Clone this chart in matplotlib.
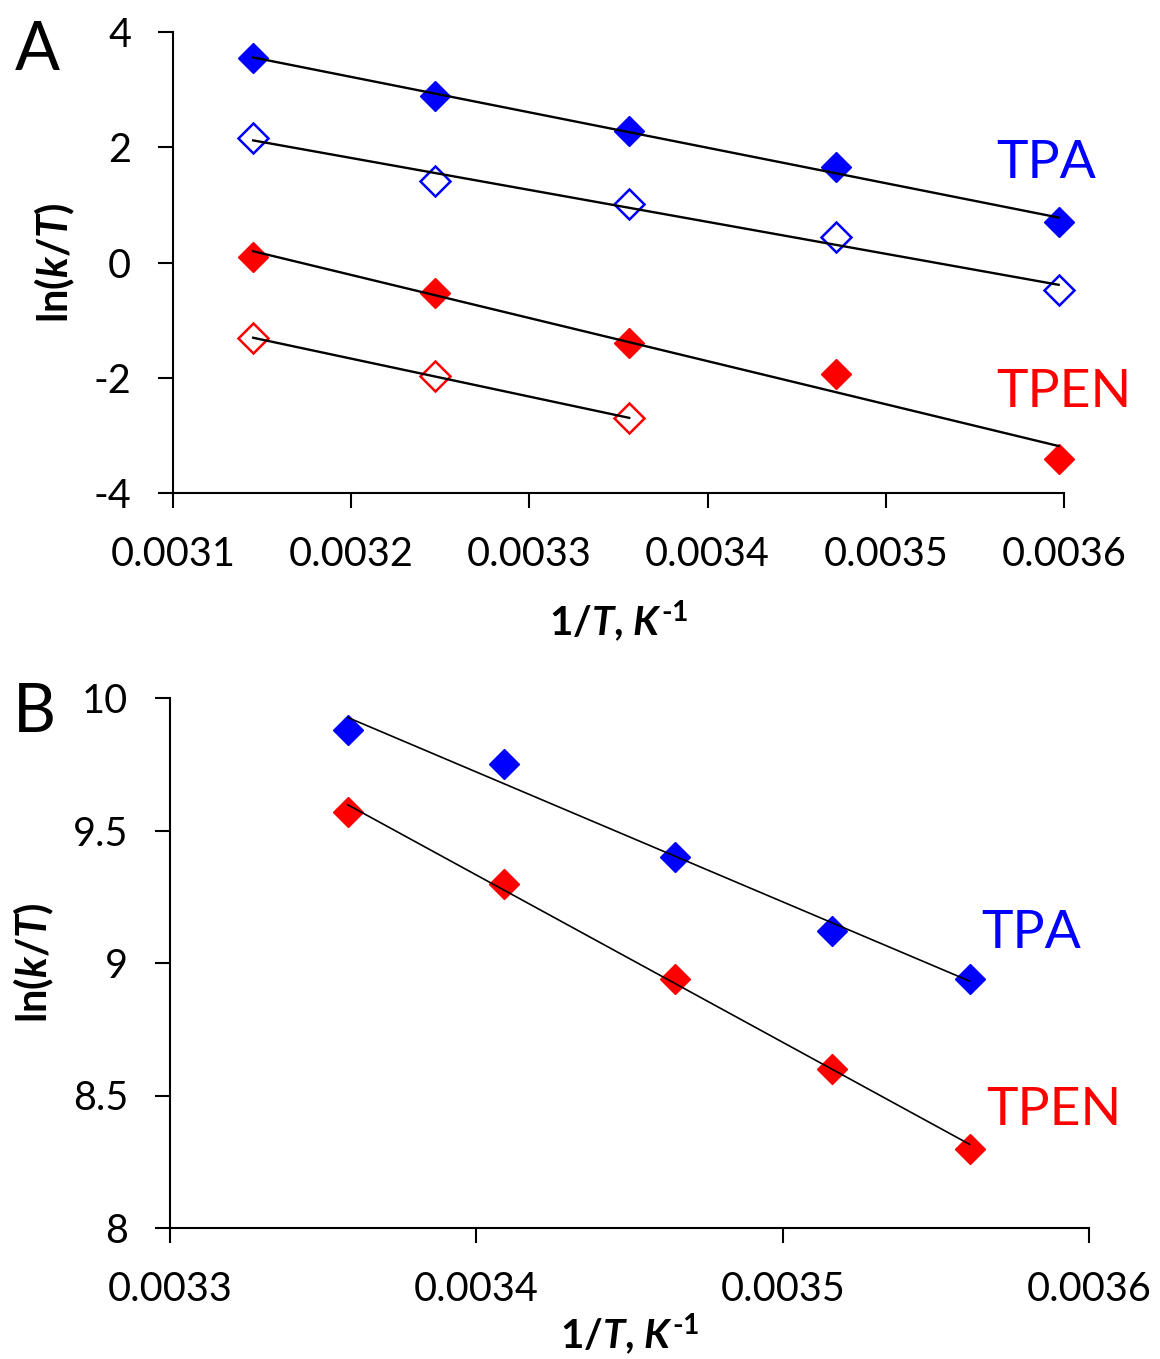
import numpy as np
import matplotlib
matplotlib.use('Agg')
import matplotlib.pyplot as plt

plt.rcParams['font.family'] = ['Lato', 'DejaVu Sans']
plt.rcParams['axes.unicode_minus'] = False
plt.rcParams['mathtext.fontset'] = 'custom'
plt.rcParams['mathtext.rm'] = 'Lato:bold'
plt.rcParams['mathtext.it'] = 'Lato:italic:bold'
plt.rcParams['mathtext.default'] = 'rm'

# Panel A: ln(k/T) vs 1/T
x_a = [0.003145, 0.003247, 0.003356, 0.003472, 0.003597]
tpa_filled_a = [3.55, 2.89, 2.28, 1.66, 0.70]
tpa_open_a = [2.16, 1.41, 1.01, 0.44, -0.48]
tpen_filled_a = [0.09, -0.53, -1.40, -1.94, -3.41]
x_a_open_tpen = [0.003145, 0.003247, 0.003356]
tpen_open_a = [-1.31, -1.97, -2.70]

# Panel B
x_b = [0.003358, 0.003409, 0.003465, 0.003516, 0.003561]
tpa_b = [9.88, 9.75, 9.40, 9.12, 8.94]
tpen_b = [9.57, 9.30, 8.94, 8.60, 8.30]

BLUE = '#0000ff'
RED = '#ff0000'
W, H = 1160, 1359


def px_rect(left, top, right, bottom):
    return [left / W, 1 - bottom / H, (right - left) / W, (bottom - top) / H]


def fit_line(ax, x, y, lw):
    x = np.asarray(x)
    k, b = np.polyfit(x, y, 1)
    xs = np.array([x.min(), x.max()])
    ax.plot(xs, k * xs + b, color='black', lw=lw, zorder=4, clip_on=False)


def style_axes(ax):
    for s in ['top', 'right']:
        ax.spines[s].set_visible(False)
    for s in ['left', 'bottom']:
        ax.spines[s].set_linewidth(1.5)
    ax.tick_params(direction='out', length=11, width=1.5, labelsize=28.5)
    ax.tick_params(axis='y', pad=19)
    ax.tick_params(axis='x', pad=20)


fig = plt.figure(figsize=(W / 100, H / 100), dpi=100)

xlabel = r'1/$\mathit{T}$, $\mathit{K}^{\text{-1}}$'
ylabel = r'ln($\mathit{k}$/$\mathit{T}$)'

# ---- Panel A ----
ax1 = fig.add_axes(px_rect(173, 32, 1064, 493))
ms = 15
kw = dict(ms=ms, clip_on=False, zorder=3)
ax1.plot(x_a, tpa_filled_a, 'D', color=BLUE, mew=1, **kw)
ax1.plot(x_a, tpa_open_a, 'D', mfc='white', mec=BLUE, mew=1.8, **kw)
ax1.plot(x_a, tpen_filled_a, 'D', color=RED, mew=1, **kw)
ax1.plot(x_a_open_tpen, tpen_open_a, 'D', mfc='white', mec=RED, mew=1.8, **kw)
for xx, yy in [(x_a, tpa_filled_a), (x_a, tpa_open_a), (x_a, tpen_filled_a),
               (x_a_open_tpen, tpen_open_a)]:
    fit_line(ax1, xx, yy, 1.7)
ax1.set_xlim(0.0031, 0.0036)
ax1.set_ylim(-4, 4)
ax1.set_xticks([0.0031, 0.0032, 0.0033, 0.0034, 0.0035, 0.0036])
ax1.set_xticklabels(['0.0031', '0.0032', '0.0033', '0.0034', '0.0035', '0.0036'])
ax1.set_yticks([-4, -2, 0, 2, 4])
ax1.set_yticklabels(['-4', '-2', '0', '2', '4'])
style_axes(ax1)
ax1.set_xlabel(xlabel, fontsize=29, fontweight='bold', labelpad=18)
ax1.set_ylabel(ylabel, fontsize=30, fontweight='bold', labelpad=12)

# ---- Panel B ----
ax2 = fig.add_axes(px_rect(170, 698, 1089, 1228))
ax2.plot(x_b, tpa_b, 'D', color=BLUE, mew=1, **kw)
ax2.plot(x_b, tpen_b, 'D', color=RED, mew=1, **kw)
fit_line(ax2, x_b, tpa_b, 1.2)
fit_line(ax2, x_b, tpen_b, 1.2)
ax2.set_xlim(0.0033, 0.0036)
ax2.set_ylim(8, 10)
ax2.set_xticks([0.0033, 0.0034, 0.0035, 0.0036])
ax2.set_xticklabels(['0.0033', '0.0034', '0.0035', '0.0036'])
ax2.set_yticks([8, 8.5, 9, 9.5, 10])
ax2.set_yticklabels(['8', '8.5', '9', '9.5', '10'])
style_axes(ax2)
ax2.set_xlabel(xlabel, fontsize=29, fontweight='bold', labelpad=2)
ax2.set_ylabel(ylabel, fontsize=30, fontweight='bold', labelpad=12)


def ftext(x, y, s, **kw):
    fig.text(x / W, 1 - y / H, s, ha='left', va='baseline', **kw)


ftext(15, 70, 'A', fontsize=48)
ftext(13, 732, 'B', fontsize=48)
ftext(996, 178, 'TPA', fontsize=38.5, color=BLUE)
ftext(996, 407, 'TPEN', fontsize=38.5, color=RED)
ftext(981, 948, 'TPA', fontsize=38.5, color=BLUE)
ftext(986, 1125, 'TPEN', fontsize=38.5, color=RED)

fig.savefig('out.png', dpi=100)
